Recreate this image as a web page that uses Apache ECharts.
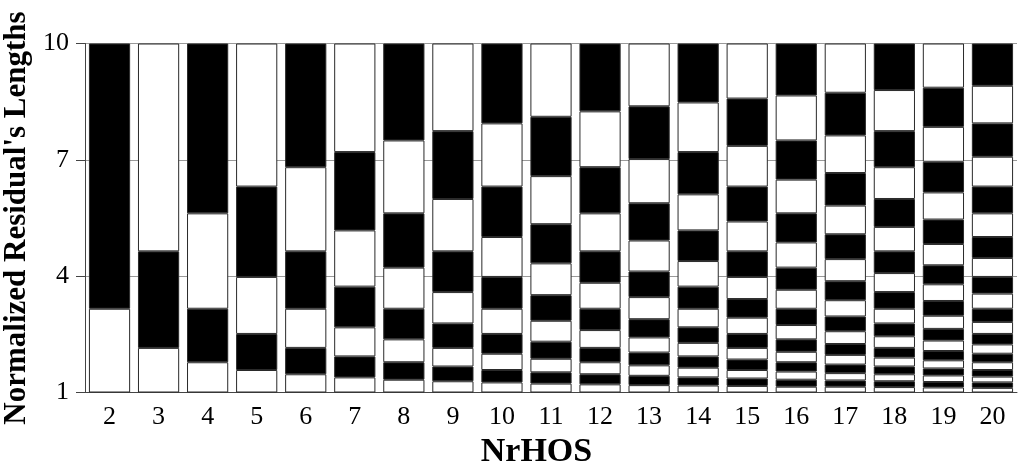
<!DOCTYPE html>
<html>
<head>
<meta charset="utf-8">
<script src="https://cdn.jsdelivr.net/npm/echarts@6/dist/echarts.min.js"></script>
<style>
  html, body { margin: 0; padding: 0; background: #fff; }
  #cht { width: 1024px; height: 476px; }
</style>
</head>
<body>
<div id="cht"></div>
<script>
// NrHOS categories on the x axis
var categories = ['2','3','4','5','6','7','8','9','10','11','12','13','14','15','16','17','18','19','20'];
var yTicks = [1, 4, 7, 10];

// upper edge of every segment, read bottom to top (each bar starts at 1)
var bounds2  = [3.16, 10];
var bounds3  = [2.15, 4.64, 10];
var bounds4  = [1.78, 3.16, 5.62, 10];
var bounds5  = [1.58, 2.51, 3.98, 6.31, 10];
var bounds6  = [1.47, 2.15, 3.16, 4.64, 6.81, 10];
var bounds7  = [1.39, 1.93, 2.68, 3.73, 5.18, 7.20, 10];
var bounds8  = [1.33, 1.78, 2.37, 3.16, 4.22, 5.62, 7.50, 10];
var bounds9  = [1.29, 1.67, 2.15, 2.78, 3.59, 4.64, 5.99, 7.74, 10];
var bounds10 = [1.26, 1.58, 2.00, 2.51, 3.16, 3.98, 5.01, 6.31, 7.94, 10];
var bounds11 = [1.23, 1.52, 1.87, 2.31, 2.85, 3.51, 4.33, 5.34, 6.58, 8.11, 10];
var bounds12 = [1.21, 1.47, 1.78, 2.15, 2.61, 3.16, 3.83, 4.64, 5.62, 6.81, 8.25, 10];
var bounds13 = [1.19, 1.43, 1.70, 2.03, 2.42, 2.89, 3.46, 4.12, 4.92, 5.88, 7.02, 8.38, 10];
var bounds14 = [1.18, 1.39, 1.64, 1.93, 2.28, 2.68, 3.16, 3.73, 4.39, 5.18, 6.11, 7.20, 8.48, 10];
var bounds15 = [1.17, 1.36, 1.58, 1.85, 2.15, 2.51, 2.93, 3.41, 3.98, 4.64, 5.41, 6.31, 7.36, 8.58, 10];
var bounds16 = [1.15, 1.33, 1.54, 1.78, 2.05, 2.37, 2.74, 3.16, 3.65, 4.22, 4.87, 5.62, 6.49, 7.50, 8.66, 10];
var bounds17 = [1.15, 1.31, 1.50, 1.72, 1.97, 2.25, 2.58, 2.96, 3.38, 3.87, 4.44, 5.08, 5.82, 6.66, 7.63, 8.73, 10];
var bounds18 = [1.14, 1.29, 1.47, 1.67, 1.90, 2.15, 2.45, 2.78, 3.16, 3.59, 4.08, 4.64, 5.27, 5.99, 6.81, 7.74, 8.80, 10];
var bounds19 = [1.13, 1.27, 1.44, 1.62, 1.83, 2.07, 2.34, 2.64, 2.98, 3.36, 3.79, 4.28, 4.83, 5.46, 6.16, 6.95, 7.85, 8.86, 10];
var bounds20 = [1.12, 1.26, 1.41, 1.58, 1.78, 2.00, 2.24, 2.51, 2.82, 3.16, 3.55, 3.98, 4.47, 5.01, 5.62, 6.31, 7.08, 7.94, 8.91, 10];

var allBounds = [bounds2, bounds3, bounds4, bounds5, bounds6, bounds7, bounds8, bounds9, bounds10,
  bounds11, bounds12, bounds13, bounds14, bounds15, bounds16, bounds17, bounds18, bounds19, bounds20];

var font = 'Liberation Serif';

// hidden base from 0 up to the axis start (1), clipped away
var series = [{
  type: 'bar', stack: 'len', silent: true,
  barCategoryGap: '16%',
  data: categories.map(function () { return yTicks[0]; }),
  itemStyle: { color: 'transparent' }
}];

var maxSeg = 0;
allBounds.forEach(function (b) { if (b.length > maxSeg) maxSeg = b.length; });

for (var k = 0; k < maxSeg; k++) {
  var seg = allBounds.map(function (b) {
    if (k >= b.length) return '-';
    var lo = k === 0 ? yTicks[0] : b[k - 1];
    return +(b[k] - lo).toFixed(4);
  });
  series.push({
    type: 'bar',
    stack: 'len',
    barCategoryGap: '16%',
    silent: true,
    data: seg,
    itemStyle: {
      color: k % 2 === 0 ? '#ffffff' : '#000000',
      borderColor: '#2a2a2a',
      borderWidth: 1
    }
  });
}

var config = {
  animation: false,
  grid: { left: 85, right: 7, top: 43.5, bottom: 83.5, containLabel: false, outerBoundsMode: 'none' },
  xAxis: {
    type: 'category',
    data: categories,
    name: 'NrHOS',
    nameLocation: 'middle',
    nameGap: 43,
    nameTextStyle: { fontFamily: font, fontWeight: 'bold', fontSize: 34, color: '#000', padding: [0, 29, 0, 0] },
    axisLine: { lineStyle: { color: '#444', width: 1 } },
    axisTick: { length: 5, lineStyle: { color: '#444' } },
    axisLabel: { fontFamily: font, fontSize: 26, color: '#000', margin: 12 }
  },
  yAxis: {
    type: 'value',
    min: 1,
    max: 10,
    interval: 3,
    name: "Normalized Residual's Lengths",
    nameLocation: 'middle',
    nameGap: 48,
    nameTextStyle: { fontFamily: font, fontWeight: 'bold', fontSize: 31, color: '#000' },
    axisLine: { show: true, lineStyle: { color: '#444', width: 1 } },
    axisTick: { show: true, length: 9, lineStyle: { color: '#444' } },
    axisLabel: { fontFamily: font, fontSize: 26, color: '#000', margin: 16 },
    splitLine: { show: true, lineStyle: { color: '#999', width: 1 } }
  },
  series: series
};

window.onload = function () {
  var myChart = echarts.init(document.getElementById('cht'));
  myChart.setOption(config);
};
</script>
</body>
</html>
